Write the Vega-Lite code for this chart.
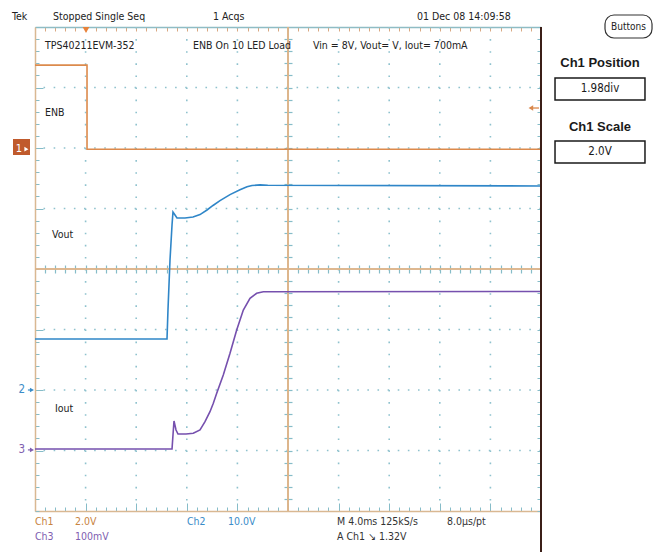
{
  "$schema": "https://vega.github.io/schema/vega-lite/v6.json",
  "width": 506,
  "height": 484,
  "padding": {"left": 35, "top": 27, "right": 117, "bottom": 41},
  "autosize": {"type": "none"},
  "background": "white",
  "config": {"view": {"stroke": null}, "font": "Liberation Sans Narrow, DejaVu Sans Condensed, sans-serif"},
  "datasets": {
    "enb": [
      {"t": 0, "v": 3.37}, {"t": 1.028, "v": 3.37}, {"t": 1.028, "v": 1.98}, {"t": 10, "v": 1.98}
    ],
    "vout": [
      {"t": 0, "v": -1.157}, {"t": 2.609, "v": -1.157}, {"t": 2.628, "v": -0.678}, {"t": 2.668, "v": 0.149},
      {"t": 2.708, "v": 0.727}, {"t": 2.727, "v": 0.942}, {"t": 2.767, "v": 0.893}, {"t": 2.806, "v": 0.843},
      {"t": 2.964, "v": 0.843}, {"t": 3.123, "v": 0.86}, {"t": 3.261, "v": 0.9}, {"t": 3.399, "v": 0.975},
      {"t": 3.518, "v": 1.05}, {"t": 3.656, "v": 1.13}, {"t": 3.854, "v": 1.23}, {"t": 4.051, "v": 1.31},
      {"t": 4.19, "v": 1.36}, {"t": 4.289, "v": 1.38}, {"t": 4.447, "v": 1.39}, {"t": 4.6, "v": 1.385},
      {"t": 10, "v": 1.372}
    ],
    "iout": [
      {"t": 0, "v": -2.975}, {"t": 2.708, "v": -2.975}, {"t": 2.727, "v": -2.744}, {"t": 2.747, "v": -2.512},
      {"t": 2.787, "v": -2.661}, {"t": 2.826, "v": -2.727}, {"t": 2.984, "v": -2.727}, {"t": 3.128, "v": -2.716},
      {"t": 3.261, "v": -2.661}, {"t": 3.36, "v": -2.524}, {"t": 3.458, "v": -2.359}, {"t": 3.524, "v": -2.22},
      {"t": 3.591, "v": -2.055}, {"t": 3.721, "v": -1.752}, {"t": 3.854, "v": -1.394}, {"t": 3.986, "v": -1.008},
      {"t": 4.117, "v": -0.678}, {"t": 4.249, "v": -0.484}, {"t": 4.381, "v": -0.402}, {"t": 4.512, "v": -0.375},
      {"t": 10, "v": -0.372}
    ],
    "info": [
      {"x": -0.455, "y": 4.165, "text": "Tek"},
      {"x": 0.356, "y": 4.165, "text": "Stopped  Single Seq"},
      {"x": 3.518, "y": 4.165, "text": "1 Acqs"},
      {"x": 7.549, "y": 4.165, "text": "01 Dec 08 14:09:58"},
      {"x": 0.198, "y": 3.686, "text": "TPS40211EVM-352"},
      {"x": 3.123, "y": 3.686, "text": "ENB On 10 LED Load"},
      {"x": 5.494, "y": 3.686, "text": "Vin = 8V, Vout= V, Iout= 700mA"},
      {"x": 0.198, "y": 2.579, "text": "ENB"},
      {"x": 0.336, "y": 0.562, "text": "Vout"},
      {"x": 0.395, "y": -2.314, "text": "Iout"}
    ],
    "chinfo": [
      {"x": 0.0, "y": -4.182, "text": "Ch1", "grp": "ch1"},
      {"x": 0.79, "y": -4.182, "text": "2.0V", "grp": "ch1"},
      {"x": 0.0, "y": -4.43, "text": "Ch3", "grp": "ch3"},
      {"x": 0.79, "y": -4.43, "text": "100mV", "grp": "ch3"},
      {"x": 3.004, "y": -4.182, "text": "Ch2", "grp": "ch2"},
      {"x": 3.814, "y": -4.182, "text": "10.0V", "grp": "ch2"},
      {"x": 5.968, "y": -4.182, "text": "M 4.0ms  125kS/s", "grp": "m"},
      {"x": 8.142, "y": -4.182, "text": "8.0µs/pt", "grp": "m"},
      {"x": 5.968, "y": -4.43, "text": "A  Ch1  ↘  1.32V", "grp": "m"}
    ],
    "panelTitles": [
      {"x": 11.166, "y": 3.405, "text": "Ch1 Position"},
      {"x": 11.166, "y": 2.347, "text": "Ch1 Scale"}
    ],
    "panelBoxes": [
      {"x1": 10.277, "x2": 12.055, "y1": 3.157, "y2": 2.793, "text": "1.98div", "ty": 2.975},
      {"x1": 10.277, "x2": 12.055, "y1": 2.116, "y2": 1.752, "text": "2.0V", "ty": 1.934}
    ],
    "buttons": [
      {"x1": 11.265, "x2": 12.194, "y1": 4.198, "y2": 3.818, "text": "Buttons", "tx": 11.729, "ty": 4.0}
    ],
    "markers": [
      {"ch": "ch2", "label": "2", "y": -2.0},
      {"ch": "ch3", "label": "3", "y": -2.99}
    ],
    "m1": [
      {"x1": -0.435, "x2": -0.099, "y1": 2.149, "y2": 1.884, "label": "1", "y": 1.98}
    ],
    "trig": [
      {"x": 1.008, "y": 3.95}
    ],
    "level": [
      {"x": 9.8, "x2": 9.96, "y": 2.661}
    ],
    "gx": [
      {"x": 1}, {"x": 2}, {"x": 3}, {"x": 4}, {"x": 6}, {"x": 7}, {"x": 8}, {"x": 9}
    ],
    "gy": [
      {"y": -3}, {"y": -2}, {"y": -1}, {"y": 1}, {"y": 2}, {"y": 3}
    ]
  },
  "resolve": {"axis": {"x": "independent", "y": "independent"}},
  "layer": [
    {
      "data": {"name": "gx"},
      "mark": {"type": "rule", "color": "#8fc2ce", "strokeWidth": 1.6, "strokeDash": [1.6, 10.5]},
      "encoding": {
        "x": {"field": "x", "type": "quantitative", "scale": {"domain": [0, 10], "nice": false, "zero": false}, "axis": null}
      }
    },
    {
      "data": {"name": "gy"},
      "mark": {"type": "rule", "color": "#8fc2ce", "strokeWidth": 1.6, "strokeDash": [1.6, 8.52]},
      "encoding": {
        "y": {"field": "y", "type": "quantitative", "scale": {"domain": [-4, 4], "nice": false, "zero": false}, "axis": null}
      }
    },
    {
      "data": {"name": "enb"},
      "mark": {"type": "rule", "color": "#dcb48a", "strokeWidth": 1.2},
      "encoding": {
        "x": {"datum": 5, "type": "quantitative", "axis": null}
      }
    },
    {
      "data": {"name": "enb"},
      "mark": {"type": "rule", "color": "#dcb48a", "strokeWidth": 1.2},
      "encoding": {
        "y": {"datum": 0, "type": "quantitative", "axis": null}
      }
    },
    {
      "data": {"name": "trig"},
      "mark": {"type": "text", "text": "", "opacity": 0},
      "encoding": {
        "x": {"field": "x", "type": "quantitative", "axis": {"orient": "bottom", "offset": -246, "values": [0.2,0.4,0.6,0.8,1,1.2,1.4,1.6,1.8,2,2.2,2.4,2.6,2.8,3,3.2,3.4,3.6,3.8,4,4.2,4.4,4.6,4.8,5.2,5.4,5.6,5.8,6,6.2,6.4,6.6,6.8,7,7.2,7.4,7.6,7.8,8,8.2,8.4,8.6,8.8,9,9.2,9.4,9.6,9.8], "domain": false, "labels": false, "grid": false, "tickSize": 8, "tickColor": "#86bcc8", "tickWidth": 1.2, "title": null}},
        "y": {"field": "y", "type": "quantitative", "axis": {"orient": "left", "offset": -257, "values": [-3.8,-3.6,-3.4,-3.2,-3,-2.8,-2.6,-2.4,-2.2,-2,-1.8,-1.6,-1.4,-1.2,-1,-0.8,-0.6,-0.4,-0.2,0.2,0.4,0.6,0.8,1,1.2,1.4,1.6,1.8,2,2.2,2.4,2.6,2.8,3,3.2,3.4,3.6,3.8], "domain": false, "labels": false, "grid": false, "tickSize": 8, "tickColor": "#86bcc8", "tickWidth": 1.2, "title": null}}
      }
    },
    {
      "data": {"name": "enb"},
      "mark": {"type": "line", "color": "#dc8a4c", "strokeWidth": 1.6, "interpolate": "linear"},
      "encoding": {
        "x": {"field": "t", "type": "quantitative", "axis": {"orient": "bottom", "values": [1,2,3,4,5,6,7,8,9], "grid": false, "domain": false, "labels": false, "ticks": true, "tickSize": -8, "tickColor": "#86bcc8", "title": null}},
        "y": {"field": "v", "type": "quantitative", "axis": {"orient": "left", "values": [-3,-2,-1,1,2,3], "grid": false, "domain": false, "labels": false, "ticks": true, "tickSize": -8, "tickColor": "#86bcc8", "title": null}}
      }
    },
    {
      "data": {"name": "vout"},
      "mark": {"type": "line", "color": "#2f86c8", "strokeWidth": 1.6},
      "encoding": {
        "x": {"field": "t", "type": "quantitative", "axis": {"orient": "bottom", "values": [0,0.2,0.4,0.6,0.8,1,1.2,1.4,1.6,1.8,2,2.2,2.4,2.6,2.8,3,3.2,3.4,3.6,3.8,4,4.2,4.4,4.6,4.8,5,5.2,5.4,5.6,5.8,6,6.2,6.4,6.6,6.8,7,7.2,7.4,7.6,7.8,8,8.2,8.4,8.6,8.8,9,9.2,9.4,9.6,9.8,10], "domain": true, "domainColor": "#d9b892", "domainWidth": 1.5, "labels": false, "grid": false, "tickSize": -4, "tickColor": "#86bcc8", "title": null}},
        "y": {"field": "v", "type": "quantitative", "axis": {"orient": "left", "values": [-4,-3.8,-3.6,-3.4,-3.2,-3,-2.8,-2.6,-2.4,-2.2,-2,-1.8,-1.6,-1.4,-1.2,-1,-0.8,-0.6,-0.4,-0.2,0,0.2,0.4,0.6,0.8,1,1.2,1.4,1.6,1.8,2,2.2,2.4,2.6,2.8,3,3.2,3.4,3.6,3.8,4], "domain": true, "domainColor": "#d9b892", "domainWidth": 1.5, "labels": false, "grid": false, "tickSize": -4, "tickColor": "#86bcc8", "title": null}}
      }
    },
    {
      "data": {"name": "iout"},
      "mark": {"type": "line", "color": "#7650ae", "strokeWidth": 1.6},
      "encoding": {
        "x": {"field": "t", "type": "quantitative", "axis": {"orient": "top", "values": [0,0.2,0.4,0.6,0.8,1,1.2,1.4,1.6,1.8,2,2.2,2.4,2.6,2.8,3,3.2,3.4,3.6,3.8,4,4.2,4.4,4.6,4.8,5,5.2,5.4,5.6,5.8,6,6.2,6.4,6.6,6.8,7,7.2,7.4,7.6,7.8,8,8.2,8.4,8.6,8.8,9,9.2,9.4,9.6,9.8,10], "domain": true, "domainColor": "#8fbcc4", "domainWidth": 1.5, "labels": false, "grid": false, "tickSize": -4, "tickColor": "#d9a882", "title": null}},
        "y": {"field": "v", "type": "quantitative", "axis": {"orient": "right", "values": [-4,-3.8,-3.6,-3.4,-3.2,-3,-2.8,-2.6,-2.4,-2.2,-2,-1.8,-1.6,-1.4,-1.2,-1,-0.8,-0.6,-0.4,-0.2,0,0.2,0.4,0.6,0.8,1,1.2,1.4,1.6,1.8,2,2.2,2.4,2.6,2.8,3,3.2,3.4,3.6,3.8,4], "domain": false, "labels": false, "grid": false, "tickSize": -4, "tickColor": "#86bcc8", "title": null}}
      }
    },
    {
      "data": {"name": "enb"},
      "mark": {"type": "rule", "color": "#3b1f18", "strokeWidth": 2},
      "encoding": {
        "x": {"datum": 10, "type": "quantitative", "axis": null},
        "y": {"datum": 4, "type": "quantitative", "axis": null},
        "y2": {"datum": -4.678}
      }
    },
    {
      "data": {"name": "info"},
      "mark": {"type": "text", "align": "left", "baseline": "middle", "fontSize": 10.5, "color": "#222222"},
      "encoding": {
        "x": {"field": "x", "type": "quantitative", "axis": null},
        "y": {"field": "y", "type": "quantitative", "axis": null},
        "text": {"field": "text"}
      }
    },
    {
      "data": {"name": "chinfo"},
      "mark": {"type": "text", "align": "left", "baseline": "middle", "fontSize": 10.5},
      "encoding": {
        "x": {"field": "x", "type": "quantitative", "axis": null},
        "y": {"field": "y", "type": "quantitative", "axis": null},
        "text": {"field": "text"},
        "color": {"field": "grp", "type": "nominal", "legend": null, "scale": {"domain": ["ch1", "ch2", "ch3", "m"], "range": ["#c8843f", "#3a8cc8", "#8060b0", "#333333"]}}
      }
    },
    {
      "data": {"name": "panelTitles"},
      "mark": {"type": "text", "align": "center", "baseline": "middle", "fontSize": 13, "fontWeight": "bold", "font": "Liberation Sans, Arial, sans-serif", "color": "#1a1a1a"},
      "encoding": {
        "x": {"field": "x", "type": "quantitative", "axis": null},
        "y": {"field": "y", "type": "quantitative", "axis": null},
        "text": {"field": "text"}
      }
    },
    {
      "data": {"name": "panelBoxes"},
      "mark": {"type": "rect", "fill": "white", "stroke": "#1a1a1a", "strokeWidth": 1.5},
      "encoding": {
        "x": {"field": "x1", "type": "quantitative", "axis": null},
        "x2": {"field": "x2"},
        "y": {"field": "y1", "type": "quantitative", "axis": null},
        "y2": {"field": "y2"}
      }
    },
    {
      "data": {"name": "panelBoxes"},
      "mark": {"type": "text", "align": "center", "baseline": "middle", "fontSize": 11.5, "color": "#1a1a1a"},
      "encoding": {
        "x": {"datum": 11.166, "type": "quantitative", "axis": null},
        "y": {"field": "ty", "type": "quantitative", "axis": null},
        "text": {"field": "text"}
      }
    },
    {
      "data": {"name": "buttons"},
      "mark": {"type": "rect", "fill": "white", "stroke": "#333333", "strokeWidth": 1.2, "cornerRadius": 9},
      "encoding": {
        "x": {"field": "x1", "type": "quantitative", "axis": null},
        "x2": {"field": "x2"},
        "y": {"field": "y1", "type": "quantitative", "axis": null},
        "y2": {"field": "y2"}
      }
    },
    {
      "data": {"name": "buttons"},
      "mark": {"type": "text", "align": "center", "baseline": "middle", "fontSize": 10, "color": "#222222"},
      "encoding": {
        "x": {"field": "tx", "type": "quantitative", "axis": null},
        "y": {"field": "ty", "type": "quantitative", "axis": null},
        "text": {"field": "text"}
      }
    },
    {
      "data": {"name": "m1"},
      "mark": {"type": "rect", "fill": "#c05a2c"},
      "encoding": {
        "x": {"field": "x1", "type": "quantitative", "axis": null},
        "x2": {"field": "x2"},
        "y": {"field": "y1", "type": "quantitative", "axis": null},
        "y2": {"field": "y2"}
      }
    },
    {
      "data": {"name": "m1"},
      "mark": {"type": "text", "align": "center", "baseline": "middle", "fontSize": 11, "color": "white"},
      "encoding": {
        "x": {"datum": -0.316, "type": "quantitative", "axis": null},
        "y": {"field": "y", "type": "quantitative", "axis": null},
        "text": {"field": "label"}
      }
    },
    {
      "data": {"name": "m1"},
      "mark": {"type": "point", "shape": "triangle-right", "filled": true, "color": "white", "size": 22, "opacity": 1},
      "encoding": {
        "x": {"datum": -0.17, "type": "quantitative", "axis": null},
        "y": {"field": "y", "type": "quantitative", "axis": null}
      }
    },
    {
      "data": {"name": "markers"},
      "mark": {"type": "text", "align": "center", "baseline": "middle", "fontSize": 11.5},
      "encoding": {
        "x": {"datum": -0.26, "type": "quantitative", "axis": null},
        "y": {"field": "y", "type": "quantitative", "axis": null},
        "text": {"field": "label"},
        "color": {"field": "ch", "type": "nominal", "legend": null, "scale": {"domain": ["ch1", "ch2", "ch3", "m"], "range": ["#c8843f", "#3a8cc8", "#8060b0", "#333333"]}}
      }
    },
    {
      "data": {"name": "markers"},
      "mark": {"type": "point", "shape": "triangle-right", "filled": true, "size": 22, "opacity": 1},
      "encoding": {
        "x": {"datum": -0.06, "type": "quantitative", "axis": null},
        "y": {"field": "y", "type": "quantitative", "axis": null},
        "color": {"field": "ch", "type": "nominal", "legend": null, "scale": {"domain": ["ch1", "ch2", "ch3", "m"], "range": ["#c8843f", "#3a8cc8", "#8060b0", "#333333"]}}
      }
    },
    {
      "data": {"name": "markers"},
      "mark": {"type": "rule", "strokeWidth": 1.2},
      "encoding": {
        "x": {"datum": -0.14, "type": "quantitative", "axis": null},
        "x2": {"datum": -0.06},
        "y": {"field": "y", "type": "quantitative", "axis": null},
        "color": {"field": "ch", "type": "nominal", "legend": null, "scale": {"domain": ["ch1", "ch2", "ch3", "m"], "range": ["#c8843f", "#3a8cc8", "#8060b0", "#333333"]}}
      }
    },
    {
      "data": {"name": "trig"},
      "mark": {"type": "point", "shape": "triangle-down", "filled": true, "color": "#e8823a", "size": 45, "opacity": 1},
      "encoding": {
        "x": {"field": "x", "type": "quantitative", "axis": null},
        "y": {"field": "y", "type": "quantitative", "axis": null}
      }
    },
    {
      "data": {"name": "level"},
      "mark": {"type": "rule", "color": "#d9884c", "strokeWidth": 1.3},
      "encoding": {
        "x": {"field": "x", "type": "quantitative", "axis": null},
        "x2": {"field": "x2"},
        "y": {"field": "y", "type": "quantitative", "axis": null}
      }
    },
    {
      "data": {"name": "level"},
      "mark": {"type": "point", "shape": "triangle-left", "filled": true, "color": "#d9884c", "size": 28, "opacity": 1},
      "encoding": {
        "x": {"field": "x", "type": "quantitative", "axis": null},
        "y": {"field": "y", "type": "quantitative", "axis": null}
      }
    }
  ]
}
